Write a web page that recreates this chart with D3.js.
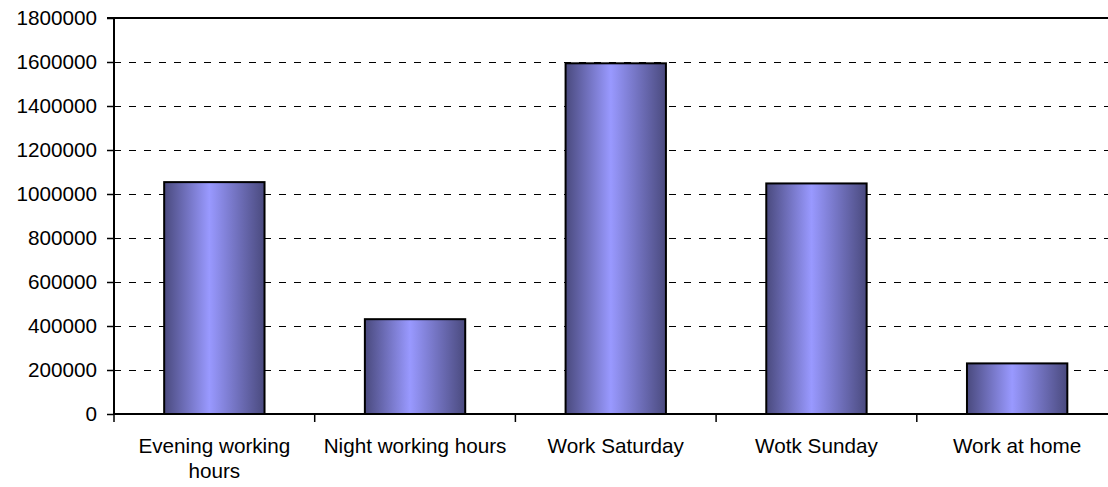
<!DOCTYPE html>
<html>
<head>
<meta charset="utf-8">
<script src="https://cdn.jsdelivr.net/npm/d3@7"></script>
<style>
  html, body { margin: 0; padding: 0; background: #fff; overflow: hidden; }
  svg { display: block; }
  text { font-family: "Liberation Sans", Arial, sans-serif; fill: #000; }
</style>
</head>
<body>
<svg id="chart" width="1108" height="487"></svg>
<script>
const categories = ["Evening working hours", "Night working hours", "Work Saturday", "Wotk Sunday", "Work at home"];
const values = [1054000, 431000, 1594000, 1048000, 230000];
const yTicks = [0, 200000, 400000, 600000, 800000, 1000000, 1200000, 1400000, 1600000, 1800000];

const svg = d3.select("#chart");
const plotLeft = 114, plotRight = 1117.5, plotTop = 18, plotBottom = 414;
const fontSize = 20.7;

const x = d3.scaleBand().domain(categories).range([plotLeft, plotRight]).paddingInner(0.5).paddingOuter(0.25);
const y = d3.scaleLinear().domain([0, 1800000]).range([plotBottom, plotTop]);

const defs = svg.append("defs");
const grad = defs.append("linearGradient").attr("id", "barGrad").attr("x1", "0%").attr("x2", "100%").attr("y1", "0%").attr("y2", "0%");
grad.append("stop").attr("offset", "0%").attr("stop-color", "#4a4a7e");
grad.append("stop").attr("offset", "45%").attr("stop-color", "#9999ff");
grad.append("stop").attr("offset", "100%").attr("stop-color", "#4a4a7e");

// gridlines (dashed)
svg.append("g").selectAll("line")
  .data(yTicks.filter(d => d > 0 && d < 1800000))
  .join("line")
  .attr("x1", plotLeft).attr("x2", plotRight)
  .attr("y1", d => Math.round(y(d)) + 0.5).attr("y2", d => Math.round(y(d)) + 0.5)
  .attr("stroke", "#000").attr("stroke-width", 1)
  .attr("shape-rendering", "crispEdges")
  .attr("stroke-dasharray", "7,8");

// top border solid
svg.append("line").attr("x1", plotLeft).attr("x2", plotRight)
  .attr("y1", y(1800000)).attr("y2", y(1800000))
  .attr("stroke", "#000").attr("stroke-width", 2);

// bars
svg.append("g").selectAll("rect")
  .data(values)
  .join("rect")
  .attr("x", (d, i) => x(categories[i]))
  .attr("width", x.bandwidth())
  .attr("y", d => y(d))
  .attr("height", d => y(0) - y(d))
  .attr("fill", "url(#barGrad)")
  .attr("stroke", "#000").attr("stroke-width", 2);

// y axis
const yAxis = d3.axisLeft(y).tickValues(yTicks).tickSize(7).tickPadding(10).tickFormat(d3.format("d"));
const gy = svg.append("g").attr("transform", `translate(${plotLeft},0)`).call(yAxis);
gy.select(".domain").attr("stroke", "#000").attr("stroke-width", 2).attr("d", `M-7,${plotTop}H0V${plotBottom}`);
gy.selectAll(".tick line").attr("stroke", "#000").attr("stroke-width", 1.5);
gy.selectAll(".tick text").style("font-size", fontSize + "px").attr("font-family", "Liberation Sans, Arial, sans-serif").attr("fill", "#000");

// x axis baseline
svg.append("line").attr("x1", plotLeft).attr("x2", plotRight).attr("y1", plotBottom).attr("y2", plotBottom)
  .attr("stroke", "#000").attr("stroke-width", 2);

// x ticks at category boundaries
const step = x.step();
const boundaries = d3.range(categories.length + 1).map(i => plotLeft + i * step);
svg.append("g").selectAll("line").data(boundaries).join("line")
  .attr("x1", d => d).attr("x2", d => d)
  .attr("y1", plotBottom).attr("y2", plotBottom + 8)
  .attr("stroke", "#000").attr("stroke-width", 1.5);

// x labels
const wrapped = {
  "Evening working hours": ["Evening working", "hours"]
};
const lbl = svg.append("g");
categories.forEach(c => {
  const lines = wrapped[c] || [c];
  const t = lbl.append("text")
    .attr("x", x(c) + x.bandwidth() / 2)
    .attr("y", 453)
    .attr("text-anchor", "middle")
    .style("font-size", fontSize + "px");
  lines.forEach((l, i) => {
    t.append("tspan").attr("x", x(c) + x.bandwidth() / 2).attr("dy", i === 0 ? 0 : 25).text(l);
  });
});
</script>
</body>
</html>
